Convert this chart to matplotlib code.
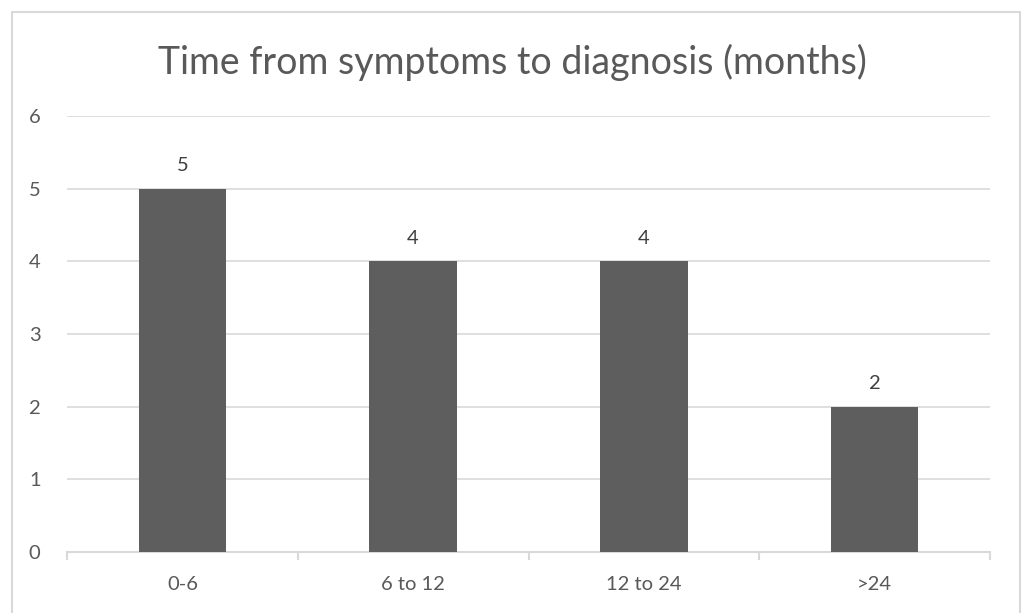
import matplotlib
matplotlib.use("Agg")
import matplotlib.pyplot as plt
from matplotlib.patches import Rectangle

categories = ["0-6", "6 to 12", "12 to 24", ">24"]
counts = [5, 4, 4, 2]

plt.rcParams['font.family'] = ['Lato', 'DejaVu Sans']

fig = plt.figure(figsize=(10.24, 6.13), dpi=100)
# light outer frame around the chart area
fig.patches.append(Rectangle((12 / 1024, -0.05), 1008 / 1024, 1 - 12 / 613 + 0.05,
                             transform=fig.transFigure, fill=False,
                             edgecolor='#d9d9d9', linewidth=1.5))

ax = fig.add_axes([67 / 1024, 1 - 552 / 613, 923 / 1024, (552 - 116) / 613])
x = range(len(categories))
bars = ax.bar(x, counts, width=0.38, color='#5e5e5e', zorder=3)

for xi, v in zip(x, counts):
    ax.text(xi, v + 0.2, str(v), ha='center', va='bottom', fontsize=14.5, color='#404040')

ax.set_xlim(-0.5, len(categories) - 0.5)
ax.set_ylim(0, 6)
ax.set_yticks(range(0, 7))
ax.set_xticks(list(x))
ax.set_xticklabels(categories)
ax.set_xticks([i - 0.5 for i in range(len(categories) + 1)], minor=True)

ax.grid(axis='y', color='#d9d9d9', linewidth=1.2, zorder=0)
for s in ['top', 'right', 'left']:
    ax.spines[s].set_visible(False)
ax.spines['bottom'].set_color('#d9d9d9')
ax.spines['bottom'].set_linewidth(1.5)

ax.tick_params(axis='y', length=0, labelsize=14.5, labelcolor='#595959', pad=19)
ax.tick_params(axis='x', which='major', length=0, labelsize=14.5, labelcolor='#595959', pad=17)
ax.tick_params(axis='x', which='minor', length=6, color='#d9d9d9', width=1.5)

fig.text(0.5, 1 - 62 / 613, "Time from symptoms to diagnosis (months)",
         ha='center', va='center', fontsize=27, color='#595959')

fig.savefig("out.png", dpi=100)
